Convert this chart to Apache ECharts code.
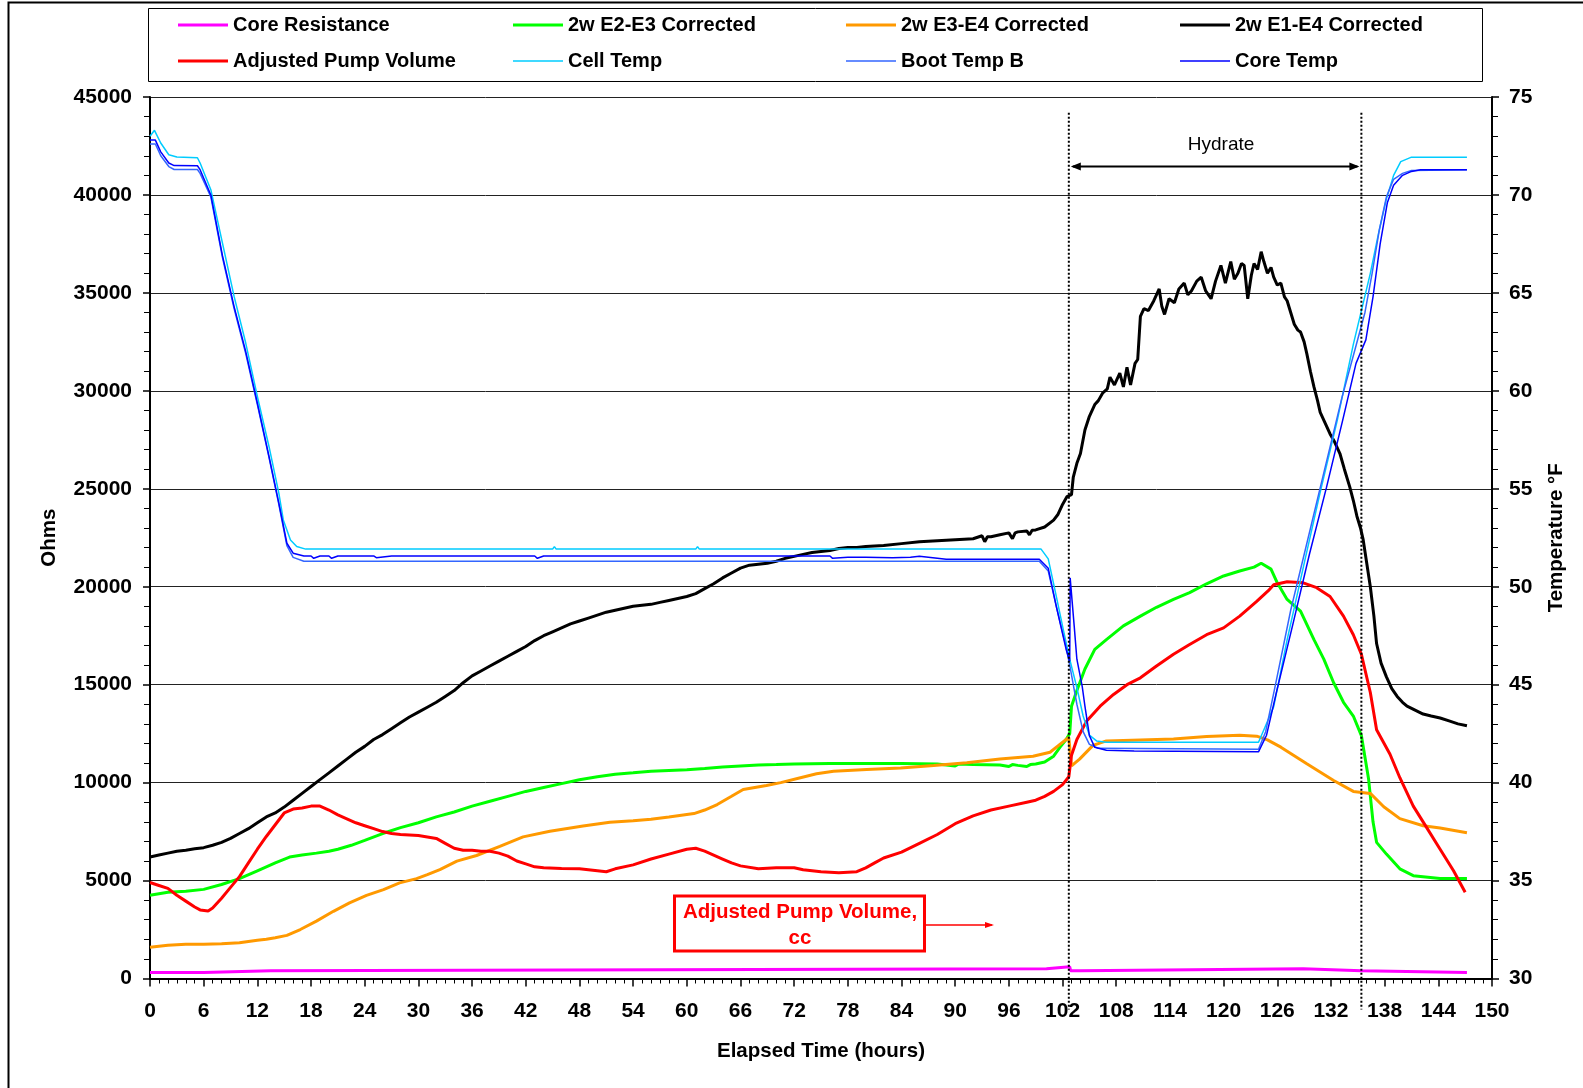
<!DOCTYPE html>
<html>
<head>
<meta charset="utf-8">
<script src="https://cdn.jsdelivr.net/npm/echarts@6/dist/echarts.min.js"></script>
<style>
html,body{margin:0;padding:0;background:#fff;}
#chart{width:1583px;height:1088px;}
</style>
</head>
<body>
<div id="chart"></div>
<script>
// ---------- DATA (hours, value) ----------
const seriesNames = ['Core Resistance','2w E2-E3 Corrected','2w E3-E4 Corrected','2w E1-E4 Corrected','Adjusted Pump Volume','Cell Temp','Boot Temp B','Core Temp'];

const coreResistance = [[0,300],[6,300],[6.1,400],[13.5,400],[13.6,500],[100.2,500],[100.3,600],[102.8,600],[102.9,400],[104,400],[104.1,500],[128.9,500],[129,400],[135.4,400],[135.5,300],[147.2,300]];

const e2e3 = [[0,4250],[2,4400],[4,4450],[6,4550],[8,4800],[10,5100],[12,5500],[14,5900],[15.6,6200],[17,6300],[18.6,6400],[20,6500],[21,6600],[22.5,6800],[24,7050],[26,7400],[28,7700],[30,7950],[32,8250],[34,8500],[36,8800],[38,9050],[40,9300],[42,9550],[44,9750],[46,9950],[48,10150],[50,10300],[52,10430],[54,10500],[56,10580],[58,10620],[60,10660],[62,10720],[64,10800],[66,10850],[68,10900],[70,10920],[72,10950],[76,10970],[80,10970],[84,10980],[88,10950],[90,10850],[90.4,10950],[92,10930],[95,10900],[96,10820],[96.4,10920],[97,10880],[98,10820],[98.4,10920],[99,10950],[100,11050],[101,11350],[101.7,11800],[102.4,12200],[102.8,12500],[103,13900],[103.6,14700],[104.5,15800],[105.6,16800],[106.9,17300],[108.8,18000],[110.7,18500],[112.5,18950],[114.4,19350],[116.2,19700],[118.1,20150],[120,20550],[121.8,20800],[123.4,21000],[124.2,21200],[125.3,20900],[126,20200],[127.1,19350],[128.6,18750],[130.1,17300],[131.2,16300],[132.3,15100],[133.4,14100],[134.5,13400],[135.4,12400],[136.2,10200],[136.7,8000],[137.1,6950],[138.2,6350],[139.7,5600],[141.2,5250],[144.2,5100],[147.2,5100]];

const e3e4 = [[0,1600],[2,1700],[4,1750],[6,1750],[8,1780],[10,1820],[12,1950],[13,2000],[14,2080],[15.3,2200],[16.8,2500],[18.6,2930],[20.5,3430],[22.3,3860],[24.2,4240],[26.1,4540],[27.9,4880],[29.8,5100],[31,5300],[32.4,5560],[34.3,5990],[36.5,6280],[39.1,6750],[41.7,7230],[44.7,7520],[48.4,7780],[51.4,7980],[54,8050],[56,8130],[58,8250],[60.8,8420],[62,8600],[63.4,8880],[65,9300],[66.3,9650],[68.9,9850],[70.5,10000],[72.7,10250],[74.5,10450],[76.4,10580],[80.1,10670],[83.9,10750],[87.6,10870],[91.3,11010],[95,11210],[98.7,11350],[100.6,11550],[101.7,11950],[102.4,12200],[102.7,12300],[103,10850],[103.9,11200],[105.4,11900],[106.9,12130],[110.7,12180],[114.4,12230],[118.1,12350],[121.8,12420],[123.7,12370],[124.9,12180],[126.4,11810],[129.3,10960],[132.3,10110],[134.5,9550],[136.4,9450],[137.9,8770],[139.7,8160],[142.3,7800],[144.2,7680],[147.2,7440]];

const e1e4 = [[0,6200],[1,6300],[2,6400],[3,6500],[4,6550],[5,6620],[6,6680],[7,6800],[8,6950],[9,7150],[10,7400],[11,7650],[12,7950],[13,8250],[14,8450],[15,8750],[16,9100],[17,9450],[18,9800],[19,10150],[20,10500],[21,10850],[22,11200],[23,11550],[24,11850],[25,12200],[26,12450],[27,12750],[28,13050],[29,13350],[30,13600],[31,13850],[32,14100],[33,14400],[34,14700],[35,15100],[36,15450],[37,15700],[38,15950],[39,16200],[40,16450],[41,16700],[42,16950],[43,17250],[44,17500],[45,17700],[46,17900],[47,18100],[48,18250],[49,18400],[50,18550],[51,18700],[52,18800],[53,18900],[54,19000],[55,19050],[56,19100],[57,19200],[58,19300],[59,19400],[60,19500],[61,19650],[62,19900],[63,20150],[64,20450],[65,20700],[66,20950],[67,21100],[68,21150],[69,21200],[70,21300],[71,21450],[72,21550],[73,21650],[74,21750],[75,21800],[76,21850],[77,21950],[78,22000],[79,22000],[80,22050],[82,22100],[84,22200],[86,22300],[88,22350],[90,22400],[92,22450],[93,22600],[93.3,22300],[93.6,22550],[94,22550],[95,22650],[96,22750],[96.4,22450],[96.7,22750],[97,22800],[98,22850],[98.3,22650],[98.6,22880],[99,22900],[100,23050],[101,23400],[101.5,23700],[102,24200],[102.5,24600],[103,24700],[103.2,25600],[103.6,26300],[104,26800],[104.5,28000],[105,28700],[105.6,29300],[106,29500],[106.5,29900],[107,30100],[107.3,30700],[107.8,30300],[108.4,30900],[108.8,30200],[109.2,31200],[109.6,30300],[110.1,31400],[110.4,31600],[110.7,33800],[111.1,34200],[111.6,34100],[112.2,34600],[112.8,35200],[113.1,34300],[113.4,33900],[113.9,34700],[114.5,34500],[115,35200],[115.6,35500],[116,34900],[116.4,35100],[117,35600],[117.5,35800],[118,35100],[118.6,34700],[119.1,35600],[119.7,36400],[120.2,35500],[120.8,36600],[121.2,35700],[121.6,36000],[122,36500],[122.3,36400],[122.7,34700],[123.1,35900],[123.4,36500],[123.8,36200],[124.2,37100],[124.5,36600],[124.9,36000],[125.3,36300],[125.6,35800],[126,35400],[126.4,35500],[126.8,34800],[127.1,34600],[127.5,34000],[127.9,33400],[128.3,33100],[128.6,33000],[129,32500],[129.3,31900],[129.7,31000],[130.1,30200],[130.5,29500],[130.8,28900],[131.3,28400],[131.9,27800],[132.4,27400],[133,26800],[133.5,26000],[134.1,25100],[134.5,24400],[134.9,23600],[135.3,23000],[135.6,22400],[136,21200],[136.4,20000],[136.8,18500],[137.1,17100],[137.6,16100],[138.2,15400],[138.8,14800],[139.4,14400],[140,14100],[140.5,13900],[141.4,13700],[142.3,13500],[143.2,13400],[144.2,13300],[145.2,13150],[146.2,13000],[147.2,12900]];

const pumpVolume = [[0,4900],[1,4750],[2,4600],[3,4250],[4,3950],[5,3650],[5.6,3500],[6.5,3450],[7,3600],[8,4100],[9,4650],[10,5200],[11,5900],[12,6600],[13,7250],[14,7850],[15,8450],[16,8650],[17,8700],[18,8800],[19,8800],[20,8600],[21,8350],[22,8150],[23,7950],[24,7800],[25,7650],[26,7500],[27,7400],[28,7350],[30,7300],[32,7150],[33,6900],[34,6650],[35,6550],[36,6550],[37,6500],[38,6500],[39,6400],[40,6250],[41,6000],[42,5850],[43,5700],[44,5650],[46,5620],[48,5600],[50,5500],[51,5450],[52,5600],[54,5800],[56,6100],[58,6350],[60,6600],[61,6650],[62,6500],[63,6300],[64,6100],[65,5900],[66,5750],[68,5600],[70,5650],[72,5650],[73,5550],[75,5450],[77,5400],[79,5450],[80,5650],[81,5900],[82,6150],[84,6450],[86,6900],[88,7350],[90,7900],[92,8300],[94,8600],[96,8800],[98,9000],[99,9100],[100,9300],[101,9550],[102,9900],[102.7,10300],[103,11400],[103.6,12200],[104.7,13150],[106.2,13900],[107.7,14500],[109.2,15000],[110.7,15350],[112.5,15950],[114.4,16550],[116.2,17050],[118.1,17550],[120,17900],[121.8,18500],[123.7,19250],[125,19800],[125.6,20100],[127.1,20250],[128.9,20200],[130.4,19950],[131.9,19500],[133.4,18500],[134.5,17550],[135.4,16550],[136.4,14600],[137.1,12700],[138.6,11450],[139.7,10250],[141.2,8800],[142.7,7700],[144.2,6600],[145.7,5500],[147,4400]];

const cellTemp = [[0,73.0],[0.5,73.3],[1.2,72.65],[2.1,72.05],[3,71.94],[5.3,71.9],[5.6,71.63],[6.8,70.27],[8.1,67.54],[9.4,64.82],[10.7,62.44],[12,59.71],[13.3,57.16],[14.4,54.78],[14.9,53.41],[15.7,52.39],[16.4,52.05],[17.4,51.92],[45,51.92],[45.2,52.05],[45.4,51.92],[61,51.92],[61.2,52.05],[61.4,51.92],[99.6,51.92],[100.4,51.42],[101.2,49.72],[102.1,47.77],[102.8,46.3],[103.6,44.85],[104.3,43.4],[105,42.42],[105.8,42.13],[106.9,42.06],[123.9,42.06],[124.6,42.8],[125.6,43.88],[127.1,47.29],[129,51.18],[130.8,54.83],[132.7,58.48],[134.5,62.37],[136.4,66.0],[137.3,68.0],[138.2,69.8],[139,71.0],[139.8,71.7],[141,71.93],[147.2,71.93]];

const bootTemp = [[0,72.6],[0.6,72.6],[1.2,72.0],[2.1,71.45],[2.7,71.3],[5.3,71.3],[5.6,71.1],[6.8,69.9],[8.1,66.8],[9.4,64.2],[10.7,61.9],[12,59.3],[13.3,56.6],[14.4,54.2],[15.3,52.1],[16,51.5],[17.2,51.3],[99.4,51.3],[100.4,50.8],[101.3,49.0],[102.4,46.9],[102.8,46.0],[103.6,44.0],[104.3,42.6],[105,41.95],[106,41.75],[123.9,41.7],[124.7,42.6],[125.8,45.0],[127.5,48.8],[129.4,52.4],[131.3,56.0],[133.2,59.6],[134.8,62.3],[135.8,64.0],[136.6,66.0],[137.4,68.2],[138.2,69.9],[139,70.8],[140,71.1],[141,71.25],[147.2,71.29]];

const coreTemp = [[0,72.8],[0.6,72.8],[1.2,72.2],[2.1,71.63],[2.7,71.5],[5.3,71.49],[5.6,71.29],[6.8,70.0],[8.1,66.9],[9.4,64.3],[10.7,62.0],[12,59.37],[13.3,56.65],[14.4,54.27],[15.3,52.22],[16,51.71],[17.2,51.57],[18,51.57],[18.3,51.45],[19,51.57],[20,51.57],[20.3,51.45],[21,51.57],[25,51.57],[25.3,51.48],[27,51.57],[43,51.57],[43.3,51.45],[44,51.57],[76,51.57],[76.3,51.45],[78,51.5],[80,51.5],[80.2,51.6],[83,51.48],[85,51.5],[86,51.55],[89,51.4],[99.4,51.4],[100.4,50.94],[101.3,49.0],[102.4,46.8],[102.8,46.2],[102.85,50.45],[103.3,48.0],[103.6,46.3],[104.2,44.9],[104.5,43.9],[105,42.4],[105.6,41.8],[106.9,41.65],[110,41.62],[123.9,41.57],[124.8,42.42],[125.9,44.6],[127.7,48.0],[129.6,51.67],[131.5,55.07],[133.3,58.48],[134.8,61.4],[135.9,62.6],[136.7,64.8],[137.5,67.5],[138.3,69.6],[139,70.5],[140,71.0],[141,71.2],[142,71.29],[147.2,71.29]];

const hydrateBounds = [102.7, 135.4];
const annotationText = ['Adjusted Pump Volume,', 'cc'];

// ---------- CHART ----------
const FONT = '"Liberation Sans", Arial, sans-serif';
const colors = ['#FF00FF','#00FF00','#FF9900','#000000','#FF0000','#00CCFF','#3366FF','#0000FF'];
const widths = [3,3,3,3,3,1.5,1.5,1.5];
const datasets = [coreResistance,e2e3,e3e4,e1e4,pumpVolume,cellTemp,bootTemp,coreTemp];
const yIdx = [0,0,0,0,0,1,1,1];

const legendPos = [[178,15],[513,15],[846,15],[1180,15],[178,51],[513,51],[846,51],[1180,51]];

const chart = echarts.init(document.getElementById('chart'), null, {renderer:'canvas'});

const axisLabelStyle = {fontFamily: FONT, fontWeight: 'bold', fontSize: 21, color: '#000'};
const nameStyle = {fontFamily: FONT, fontWeight: 'bold', fontSize: 20.5, color: '#000'};

const option = {
  animation: false,
  backgroundColor: '#fff',
  color: colors,
  grid: {left: 150, right: 91, top: 97, bottom: 109.5, containLabel: false},
  legend: seriesNames.map((n, i) => ({
    data: [n],
    left: legendPos[i][0],
    top: legendPos[i][1],
    padding: 0,
    icon: 'rect',
    itemWidth: 50,
    itemHeight: widths[i] > 2 ? 3 : 1.5,
    selectedMode: false,
    textStyle: {fontFamily: FONT, fontWeight: 'bold', fontSize: 20, color: '#000'}
  })),
  xAxis: {
    type: 'value', min: 0, max: 150, interval: 6,
    name: 'Elapsed Time (hours)', nameLocation: 'middle', nameGap: 62,
    nameTextStyle: nameStyle,
    axisLine: {show: true, onZero: false, lineStyle: {color: '#000', width: 2}},
    axisTick: {show: true, length: 8, lineStyle: {color: '#000', width: 1.5}},
    minorTick: {show: true, splitNumber: 6, length: 5, lineStyle: {color: '#000', width: 1}},
    axisLabel: Object.assign({margin: 22}, axisLabelStyle),
    splitLine: {show: false}
  },
  yAxis: [{
    type: 'value', min: 0, max: 45000, interval: 5000, position: 'left',
    name: 'Ohms', nameLocation: 'middle', nameGap: 90,
    nameTextStyle: nameStyle,
    axisLine: {show: true, lineStyle: {color: '#000', width: 2}},
    axisTick: {show: true, length: 7, lineStyle: {color: '#000', width: 1.5}},
    minorTick: {show: true, splitNumber: 5, length: 6, lineStyle: {color: '#000', width: 1}},
    axisLabel: Object.assign({margin: 18, formatter: v => String(v)}, axisLabelStyle),
    splitLine: {show: true, lineStyle: {color: '#222', width: 1}}
  }, {
    type: 'value', min: 30, max: 75, interval: 5, position: 'right',
    name: 'Temperature °F', nameLocation: 'middle', nameGap: 54,
    nameTextStyle: nameStyle,
    axisLine: {show: true, lineStyle: {color: '#000', width: 2}},
    axisTick: {show: true, length: 7, lineStyle: {color: '#000', width: 1.5}},
    minorTick: {show: true, splitNumber: 5, length: 6, lineStyle: {color: '#000', width: 1}},
    axisLabel: Object.assign({margin: 17, formatter: v => String(v)}, axisLabelStyle),
    splitLine: {show: false}
  }],
  series: seriesNames.map((n, i) => ({
    name: n, type: 'line', yAxisIndex: yIdx[i], data: datasets[i],
    showSymbol: false, symbol: 'none', smooth: false, clip: true,
    lineStyle: {color: colors[i], width: widths[i]},
    itemStyle: {color: colors[i]},
    z: 2 + i
  }))
};
chart.setOption(option);

// ---------- ANNOTATIONS ----------
function px(h, v) { return chart.convertToPixel({xAxisIndex: 0, yAxisIndex: 0}, [h, v]); }
const pA = px(hydrateBounds[0], 44200), pB = px(hydrateBounds[1], 44200);
const zeroY = px(0, 0)[1];
const arrowY = px(0, 41450)[1];
const textY = px(0, 42550)[1];
const xa = pA[0], xb = pB[0];
const graphics = [
  {type: 'rect', shape: {x: 8.5, y: 2.5, width: 2000, height: 2000}, style: {fill: null, stroke: '#000', lineWidth: 2}, silent: true},
  {type: 'rect', shape: {x: 148.5, y: 8.5, width: 1334, height: 73}, style: {fill: null, stroke: '#000', lineWidth: 1}, z: -1},
  {type: 'line', shape: {x1: xa, y1: pA[1], x2: xa, y2: zeroY + 31}, style: {stroke: '#000', lineWidth: 2, lineDash: [2, 2]}, z: 50},
  {type: 'line', shape: {x1: xb, y1: pB[1], x2: xb, y2: zeroY + 31}, style: {stroke: '#000', lineWidth: 2, lineDash: [2, 2]}, z: 50},
  {type: 'line', shape: {x1: xa + 4, y1: arrowY, x2: xb - 4, y2: arrowY}, style: {stroke: '#000', lineWidth: 2}, z: 50},
  {type: 'polygon', shape: {points: [[xa + 2, arrowY], [xa + 12, arrowY - 4], [xa + 12, arrowY + 4]]}, style: {fill: '#000'}, z: 50},
  {type: 'polygon', shape: {points: [[xb - 2, arrowY], [xb - 12, arrowY - 4], [xb - 12, arrowY + 4]]}, style: {fill: '#000'}, z: 50},
  {type: 'text', x: (xa + xb) / 2 + 6, y: textY, style: {text: 'Hydrate', fontFamily: FONT, fontSize: 19, fill: '#000', align: 'center', verticalAlign: 'middle'}, z: 50},
  {type: 'rect', shape: {x: 674.5, y: 896, width: 250, height: 55}, style: {fill: '#fff', stroke: '#FF0000', lineWidth: 3}, z: 60},
  {type: 'text', x: 800, y: 912, style: {text: annotationText[0], fontFamily: FONT, fontWeight: 'bold', fontSize: 20.5, fill: '#FF0000', align: 'center', verticalAlign: 'middle'}, z: 61},
  {type: 'text', x: 800, y: 938, style: {text: annotationText[1], fontFamily: FONT, fontWeight: 'bold', fontSize: 20.5, fill: '#FF0000', align: 'center', verticalAlign: 'middle'}, z: 61},
  {type: 'line', shape: {x1: 926, y1: 925, x2: 992, y2: 925}, style: {stroke: '#FF0000', lineWidth: 1.5}, z: 60},
  {type: 'polygon', shape: {points: [[994, 925], [985, 922], [985, 928]]}, style: {fill: '#FF0000'}, z: 60}
];
chart.setOption({graphic: graphics});
</script>
</body>
</html>
